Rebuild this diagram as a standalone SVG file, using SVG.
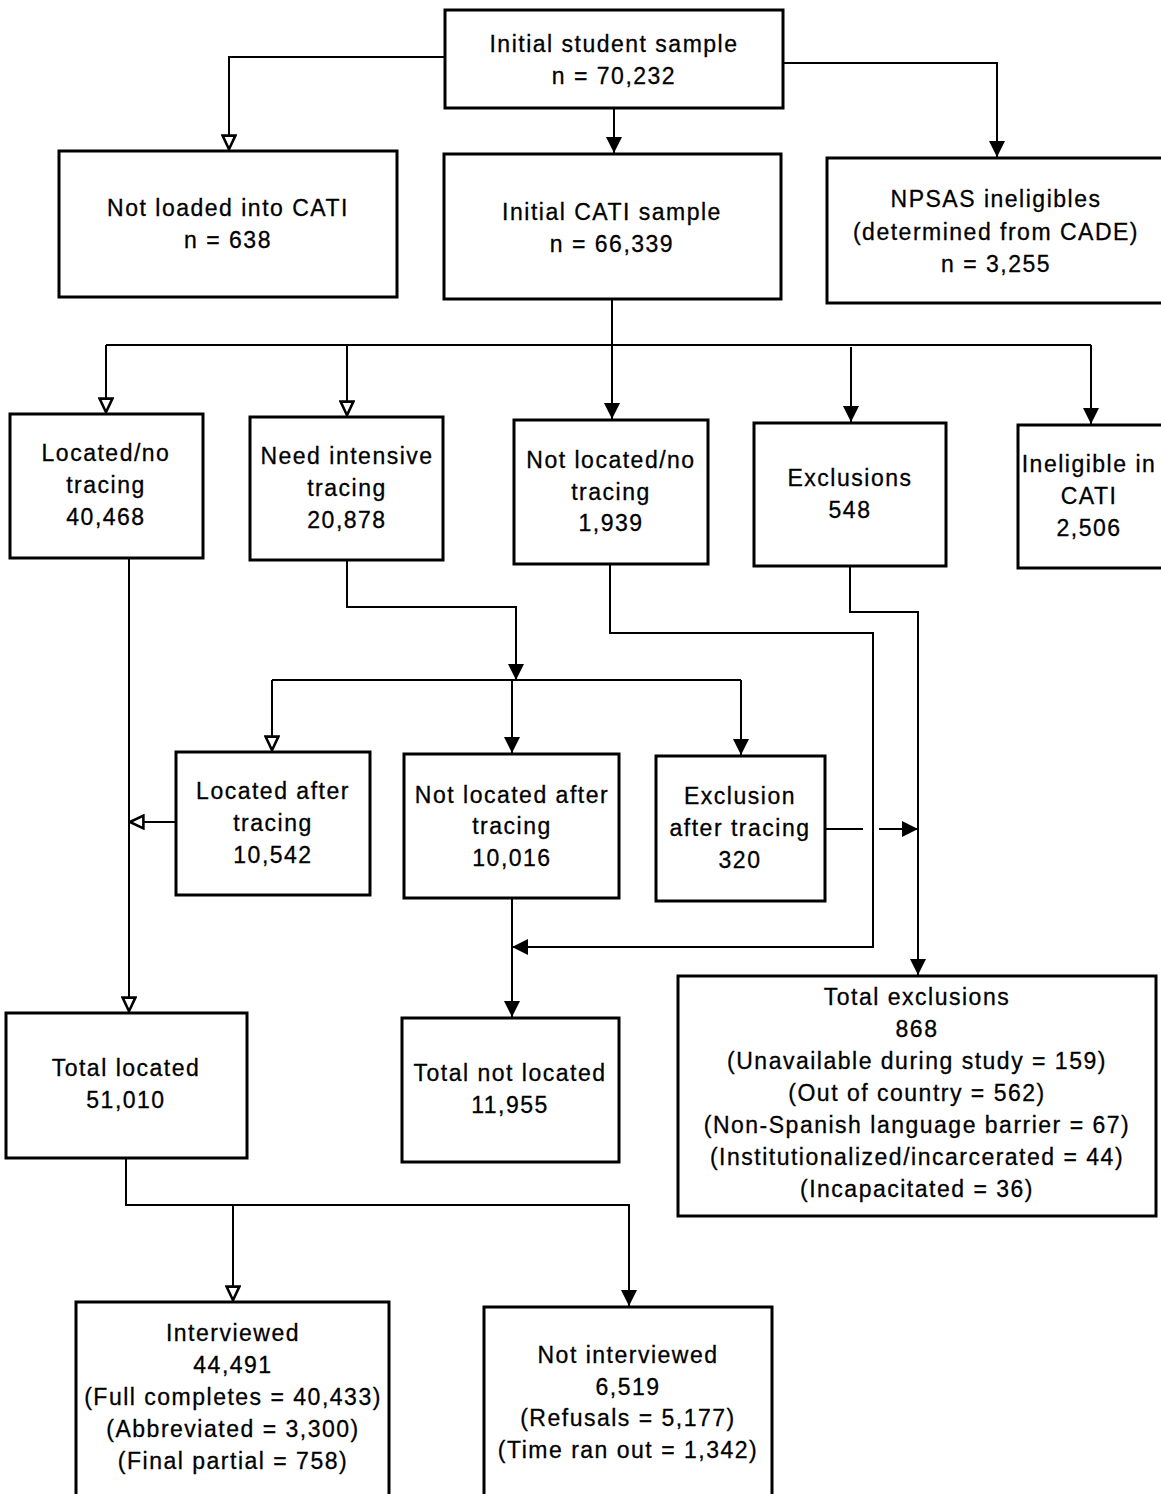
<svg xmlns="http://www.w3.org/2000/svg" width="1161" height="1494" viewBox="0 0 1161 1494">
<style>
.box{fill:#fff;stroke:#000;stroke-width:3}
.t{font-family:"Liberation Sans",Arial,sans-serif;font-size:23px;fill:#000;stroke:#000;stroke-width:0.3;text-anchor:middle;letter-spacing:1.5px}
.c{fill:none;stroke:#000;stroke-width:2}
</style>
<defs>
<marker id="af" viewBox="0 0 10 10" refX="10" refY="5" markerWidth="16" markerHeight="16" markerUnits="userSpaceOnUse" orient="auto"><path d="M0,0 L10,5 L0,10 Z" fill="#000"/></marker>
<marker id="ao" viewBox="0 0 10 10" refX="10" refY="5" markerWidth="16" markerHeight="16" markerUnits="userSpaceOnUse" orient="auto"><path d="M1,1 L9.5,5 L1,9 Z" fill="#fff" stroke="#000" stroke-width="1.6"/></marker>
</defs>
<rect width="1161" height="1494" fill="#fff"/>
<g id="connectors">
<path class="c" d="M445,57 H229 V150" marker-end="url(#ao)"/>
<path class="c" d="M614,108 V153" marker-end="url(#af)"/>
<path class="c" d="M783,63 H997 V157" marker-end="url(#af)"/>
<path class="c" d="M612,299 V419" marker-end="url(#af)"/>
<path class="c" d="M106,345 H1091"/>
<path class="c" d="M106,345 V413" marker-end="url(#ao)"/>
<path class="c" d="M347,345 V416" marker-end="url(#ao)"/>
<path class="c" d="M851,347 V422" marker-end="url(#af)"/>
<path class="c" d="M1091,345 V424" marker-end="url(#af)"/>
<path class="c" d="M347,560 V607 H516 V680" marker-end="url(#af)"/>
<path class="c" d="M272,680 H741"/>
<path class="c" d="M272,680 V751" marker-end="url(#ao)"/>
<path class="c" d="M512,680 V753" marker-end="url(#af)"/>
<path class="c" d="M741,680 V755" marker-end="url(#af)"/>
<path class="c" d="M176,822 H129" marker-end="url(#ao)"/>
<path class="c" d="M129,558 V1012" marker-end="url(#ao)"/>
<path class="c" d="M610,564 V633 H873 V947 H512" marker-end="url(#af)"/>
<path class="c" d="M512,898 V1017" marker-end="url(#af)"/>
<path class="c" d="M850,566 V612 H918 V975" marker-end="url(#af)"/>
<path class="c" d="M825,829 H863"/>
<path class="c" d="M879,829 H918" marker-end="url(#af)"/>
<path class="c" d="M126,1158 V1205 H629 V1306" marker-end="url(#af)"/>
<path class="c" d="M233,1205 V1301" marker-end="url(#ao)"/>
</g>
<g id="n1"><rect class="box" x="445" y="10" width="338" height="98"/><text class="t" x="614" y="52">Initial student sample</text><text class="t" x="614" y="84">n = 70,232</text></g>
<g id="n2"><rect class="box" x="59" y="151" width="338" height="146"/><text class="t" x="228" y="216">Not loaded into CATI</text><text class="t" x="228" y="248">n = 638</text></g>
<g id="n3"><rect class="box" x="444" y="154" width="337" height="145"/><text class="t" x="612" y="220">Initial CATI sample</text><text class="t" x="612" y="252">n = 66,339</text></g>
<g id="n4"><rect class="box" x="827" y="158" width="340" height="145"/><text class="t" x="996" y="207">NPSAS ineligibles</text><text class="t" x="996" y="240">(determined from CADE)</text><text class="t" x="996" y="272">n = 3,255</text></g>
<g id="n5"><rect class="box" x="10" y="414" width="193" height="144"/><text class="t" x="106" y="461">Located/no</text><text class="t" x="106" y="493">tracing</text><text class="t" x="106" y="525">40,468</text></g>
<g id="n6"><rect class="box" x="250" y="417" width="193" height="143"/><text class="t" x="347" y="464">Need intensive</text><text class="t" x="347" y="496">tracing</text><text class="t" x="347" y="528">20,878</text></g>
<g id="n7"><rect class="box" x="514" y="420" width="194" height="144"/><text class="t" x="611" y="468">Not located/no</text><text class="t" x="611" y="500">tracing</text><text class="t" x="611" y="531">1,939</text></g>
<g id="n8"><rect class="box" x="754" y="423" width="192" height="143"/><text class="t" x="850" y="486">Exclusions</text><text class="t" x="850" y="518">548</text></g>
<g id="n9"><rect class="box" x="1018" y="425" width="145" height="143"/><text class="t" x="1089" y="472">Ineligible in</text><text class="t" x="1089" y="504">CATI</text><text class="t" x="1089" y="536">2,506</text></g>
<g id="n10"><rect class="box" x="176" y="752" width="194" height="143"/><text class="t" x="273" y="799">Located after</text><text class="t" x="273" y="831">tracing</text><text class="t" x="273" y="863">10,542</text></g>
<g id="n11"><rect class="box" x="404" y="754" width="215" height="144"/><text class="t" x="512" y="803">Not located after</text><text class="t" x="512" y="834">tracing</text><text class="t" x="512" y="866">10,016</text></g>
<g id="n12"><rect class="box" x="656" y="756" width="169" height="145"/><text class="t" x="740" y="804">Exclusion</text><text class="t" x="740" y="836">after tracing</text><text class="t" x="740" y="868">320</text></g>
<g id="n13"><rect class="box" x="6" y="1013" width="241" height="145"/><text class="t" x="126" y="1076">Total located</text><text class="t" x="126" y="1108">51,010</text></g>
<g id="n14"><rect class="box" x="402" y="1018" width="217" height="144"/><text class="t" x="510" y="1081">Total not located</text><text class="t" x="510" y="1113">11,955</text></g>
<g id="n15"><rect class="box" x="678" y="976" width="478" height="240"/><text class="t" x="917" y="1005">Total exclusions</text><text class="t" x="917" y="1037">868</text><text class="t" x="917" y="1069">(Unavailable during study = 159)</text><text class="t" x="917" y="1101">(Out of country = 562)</text><text class="t" x="917" y="1133">(Non-Spanish language barrier = 67)</text><text class="t" x="917" y="1165">(Institutionalized/incarcerated = 44)</text><text class="t" x="917" y="1197">(Incapacitated = 36)</text></g>
<g id="n16"><rect class="box" x="76" y="1302" width="313" height="200"/><text class="t" x="233" y="1341">Interviewed</text><text class="t" x="233" y="1373">44,491</text><text class="t" x="233" y="1405">(Full completes = 40,433)</text><text class="t" x="233" y="1437">(Abbreviated = 3,300)</text><text class="t" x="233" y="1469">(Final partial = 758)</text></g>
<g id="n17"><rect class="box" x="484" y="1307" width="288" height="195"/><text class="t" x="628" y="1363">Not interviewed</text><text class="t" x="628" y="1395">6,519</text><text class="t" x="628" y="1426">(Refusals = 5,177)</text><text class="t" x="628" y="1458">(Time ran out = 1,342)</text></g>
</svg>
